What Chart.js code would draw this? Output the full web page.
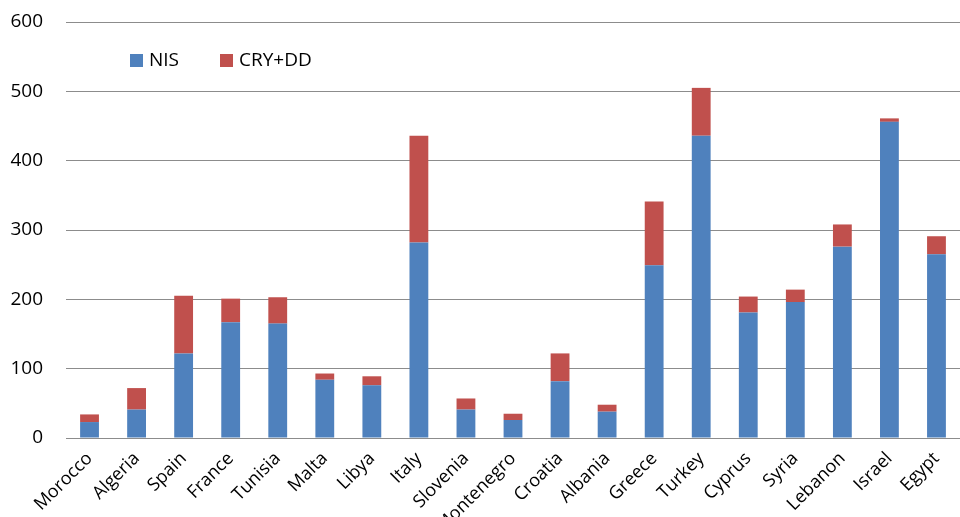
<!DOCTYPE html>
<html>
<head>
<meta charset="utf-8">
<script src="https://cdn.jsdelivr.net/npm/chart.js@4/dist/chart.umd.min.js"></script>
<style>
  html, body { margin: 0; padding: 0; background: #fff; }
  #wrap { width: 960px; height: 517px; }
</style>
</head>
<body>
<div id="wrap"><canvas id="bars" width="960" height="517"></canvas></div>
<script>
var countries = ["Morocco", "Algeria", "Spain", "France", "Tunisia", "Malta", "Libya", "Italy", "Slovenia",
  "Montenegro", "Croatia", "Albania", "Greece", "Turkey", "Cyprus", "Syria", "Lebanon", "Israel", "Egypt"];
var nis = [23, 41, 122, 167, 165, 84, 76, 282, 41, 26, 82, 38, 249, 436, 181, 196, 276, 456, 265];
var cryDd = [11, 31, 83, 34, 38, 9, 13, 154, 16, 9, 40, 10, 92, 69, 23, 18, 32, 5, 26];
var yTicks = [0, 100, 200, 300, 400, 500, 600];

var blue = '#4f81bd';
var red = '#c0504d';
var fontFam = '"Open Sans", sans-serif';

// legend sits inside the plot, between the 600 and 500 lines
var insideLegend = {
  id: 'insideLegend',
  afterDraw: function (chart) {
    var c = chart.ctx;
    var items = [{ text: 'NIS', color: blue, x: 130 }, { text: 'CRY+DD', color: red, x: 220 }];
    c.save();
    c.font = '19px ' + fontFam;
    c.textBaseline = 'middle';
    items.forEach(function (it) {
      c.fillStyle = it.color;
      c.fillRect(it.x, 54, 13, 13);
      c.fillStyle = '#000';
      c.fillText(it.text, it.x + 19, 61);
    });
    c.restore();
  }
};

var ctx = document.getElementById('bars').getContext('2d');
var chart = new Chart(ctx, {
  type: 'bar',
  data: {
    labels: countries,
    datasets: [
      { label: 'NIS', data: nis, backgroundColor: blue, barPercentage: 0.4, categoryPercentage: 1 },
      { label: 'CRY+DD', data: cryDd, backgroundColor: red, barPercentage: 0.4, categoryPercentage: 1 }
    ]
  },
  options: {
    responsive: false,
    animation: false,
    layout: { padding: { top: 22, right: 0, left: 0, bottom: 0 } },
    plugins: {
      legend: { display: false },
      tooltip: { enabled: false }
    },
    scales: {
      x: {
        stacked: true,
        grid: { display: false },
        border: { display: false },
        ticks: {
          color: '#000',
          font: { family: fontFam, size: 18 },
          minRotation: 45,
          maxRotation: 45,
          autoSkip: false,
          padding: 2
        },
        afterFit: function (s) { s.height = 79; }
      },
      y: {
        stacked: true,
        min: 0,
        max: 600,
        afterBuildTicks: function (s) { s.ticks = yTicks.map(function (v) { return { value: v }; }); },
        grid: { color: '#8c8c8c', lineWidth: 1, drawTicks: false },
        border: { display: false },
        ticks: {
          color: '#000',
          font: { family: fontFam, size: 19 },
          padding: 23
        },
        afterFit: function (s) { s.width = 66; s.paddingTop = 0; s.paddingBottom = 0; }
      }
    }
  },
  plugins: [insideLegend]
});
</script>
</body>
</html>
